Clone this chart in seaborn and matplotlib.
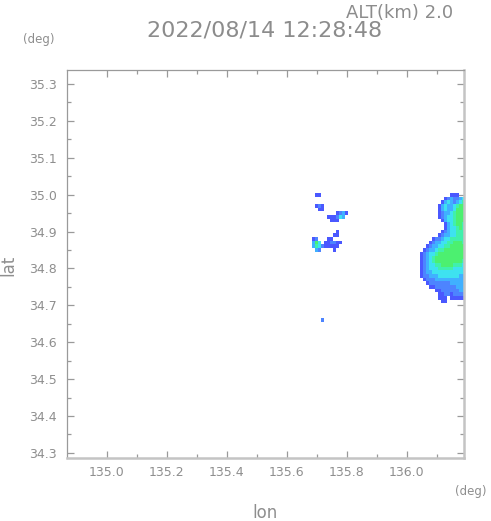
import numpy as np
import matplotlib
matplotlib.use("Agg")
import matplotlib.pyplot as plt
from matplotlib.colors import ListedColormap, BoundaryNorm
from matplotlib.ticker import FixedLocator
import seaborn as sns

# radar grid: cell centres, 0.01 deg steps, rows go south from grid_lat0
grid_lon0 = 135.69
grid_lat0 = 35.00
grid_step = 0.01
west_width = 35  # columns 135.69 .. 136.03, east part starts at 136.04

# echo level per cell (blank = no echo), west part
west_rows = [
    " 11",
    "",
    "",
    " 121",
    "  11",
    "        1231",
    "     111243",
    "      111",
    "",
    "",
    "        1",
    "       11",
    "12   11",
    "364 112211",
    "354211111",
    " 32    1",
] + [""] * 18 + [
    "   2",
]

# east part (main cell on the right edge)
east_rows = [
    "           111  ",
    "         1232234",
    "        13432345",
    "       134334566",
    "       134334666",
    "       123345666",
    "       123445666",
    "        13445666",
    "         1345665",
    "         1344565",
    "        12344555",
    "       123344555",
    "     12234455555",
    "    123344556665",
    "   1233445566666",
    "  12334556666666",
    " 123445666666666",
    " 123456666666666",
    " 123456666666665",
    " 123445566665554",
    " 123444555554444",
    " 123344444444444",
    " 122333444444433",
    "  12223333333333",
    "   1222222233333",
    "    112222222333",
    "      1122222233",
    "       112212222",
    "       111 11111",
    "        11      ",
]

level_colors = ["#4a58ff", "#4d84ff", "#40b0ff", "#3ee2f0", "#40f0ac", "#4cf070"]

x_major = [135.0, 135.2, 135.4, 135.6, 135.8, 136.0]
x_minor = [135.1, 135.3, 135.5, 135.7, 135.9, 136.1]
y_major = [34.3, 34.4, 34.5, 34.6, 34.7, 34.8, 34.9, 35.0, 35.1, 35.2, 35.3]
y_minor = [34.35, 34.45, 34.55, 34.65, 34.75, 34.85, 34.95, 35.05, 35.15, 35.25]

lon_range = (134.867, 136.191)
lat_range = (34.286, 35.338)

title_text = "2022/08/14 12:28:48"
alt_text = "ALT(km) 2.0"

# build level matrix
nrows = max(len(west_rows), len(east_rows))
east_rows_full = east_rows + [""] * (nrows - len(east_rows))
ncols = west_width + 16
levels = np.zeros((nrows, ncols))
for r in range(nrows):
    line = west_rows[r].ljust(west_width) + east_rows_full[r].ljust(16)
    for c, ch in enumerate(line):
        if ch.strip():
            levels[r, c] = int(ch)
levels = np.ma.masked_equal(levels, 0)

lon_edges = grid_lon0 - grid_step / 2 + grid_step * np.arange(ncols + 1)
lat_edges = grid_lat0 + grid_step / 2 - grid_step * np.arange(nrows + 1)

sns.set_theme(style="white")
plt.rcParams["font.family"] = ["DejaVu Sans"]

gray = "#8e8e8e"
fig = plt.figure(figsize=(4.91, 5.21), dpi=100)
ax = fig.add_axes([66.7 / 491, 1 - 458 / 521, (464 - 66.7) / 491, (458 - 70) / 521])

cmap = ListedColormap(level_colors)
norm = BoundaryNorm(np.arange(0.5, len(level_colors) + 1.5), cmap.N)
ax.pcolormesh(lon_edges, lat_edges, levels, cmap=cmap, norm=norm, shading="flat")

ax.set_xlim(*lon_range)
ax.set_ylim(*lat_range)
ax.xaxis.set_major_locator(FixedLocator(x_major))
ax.xaxis.set_minor_locator(FixedLocator(x_minor))
ax.yaxis.set_major_locator(FixedLocator(y_major))
ax.yaxis.set_minor_locator(FixedLocator(y_minor))
ax.set_xticklabels([f"{v:.1f}" for v in x_major])
ax.set_yticklabels([f"{v:.1f}" for v in y_major])

ax.tick_params(which="both", direction="in", top=True, right=True, bottom=True, left=True,
               colors="#9a9a9a", labelcolor=gray, labelsize=9, width=0.9)
ax.tick_params(which="major", length=5)
ax.tick_params(which="minor", length=3)
ax.tick_params(axis="x", pad=6)
ax.tick_params(axis="y", pad=7)

for side in ["top", "left"]:
    ax.spines[side].set_color("#9a9a9a")
    ax.spines[side].set_linewidth(0.9)
for side in ["bottom", "right"]:
    ax.spines[side].set_color("#c4c4c4")
    ax.spines[side].set_linewidth(1.8)

fig.text(265 / 491, 1 - 31 / 521, title_text, ha="center", va="center", fontsize=16, color="#8c8c8c")
fig.text(400 / 491, 1 - 13 / 521, alt_text, ha="center", va="center", fontsize=13, color="#8c8c8c")
fig.text(39 / 491, 1 - 40 / 521, "(deg)", ha="center", va="center", fontsize=8.5, color=gray)
fig.text(471 / 491, 1 - 491 / 521, "(deg)", ha="center", va="center", fontsize=8.5, color=gray)
fig.text(265 / 491, 1 - 513 / 521, "lon", ha="center", va="center", fontsize=12, color=gray)
fig.text(8 / 491, 1 - 265 / 521, "lat", ha="center", va="center", fontsize=12, color=gray, rotation=90)

fig.savefig("out.png", dpi=100)
